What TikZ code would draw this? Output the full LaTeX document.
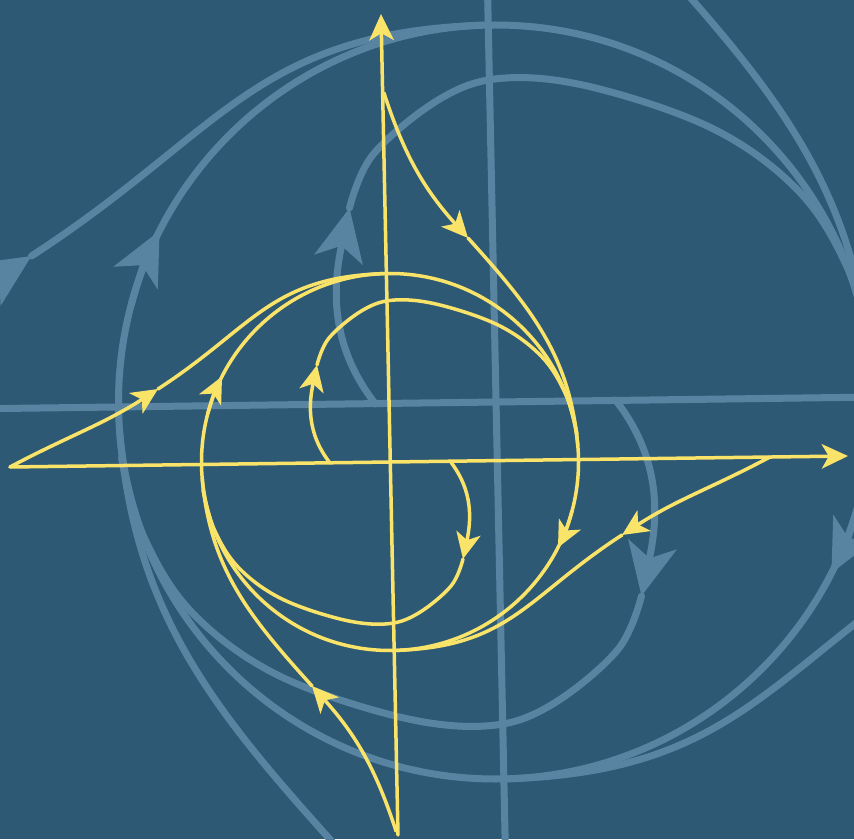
\documentclass[tikz,border=0pt]{standalone}
\usetikzlibrary{arrows.meta}
\definecolor{board}{RGB}{46,89,117}
\definecolor{ghost}{RGB}{88,132,162}
\definecolor{chalk}{RGB}{250,227,105}

%% one phase portrait in its own frame: origin at the centre, v up
\newcommand{\phaseportrait}{%
    %% --- axes ---
    \draw[->] (8,-373) -- (-9,448);
    \draw[->] (-380,-5) -- (458,6);
    %% --- limit cycle ---
    \draw (0,0) circle[radius=188.5];
    \foreach \ang in {0,180} {
        \begin{scope}[rotate=\ang]
            \draw[->] (-15:188.5) arc[start angle=-15, end angle=-27, radius=188.5];
            % spike leaving the vertical axis
            \draw[->] (-6,369) to[out=-72, in=132] (78,224);
            \draw (78,224) to[out=-48, in=95] (187.8,16.4);
            % branch leaving the horizontal axis
            \draw[->] (-380,-5) to[out=28, in=213] (-232,73);
            \draw (-232,73) to[out=33, in=182, looseness=1.15] (-6.6,188.4);
            % inner branch
            \draw[->] (-60,-1) to[out=128, in=258] (-73,97);
            \draw plot[smooth, tension=0.6] coordinates {(-73,97) (-61,124) (-27,152) (5,162) (50,157) (110,136) (152,105) (176,67) (187,28)};
        \end{scope}
    }
}

\begin{document}
\begin{tikzpicture}[
    x=1pt, y=1pt, line cap=round,
    >={Stealth[length=0pt 7.5, width=0pt 7, inset=0pt 2]}
]

\useasboundingbox (0,0) rectangle (854,839);
\fill[board] (0,0) rectangle (854,839);
\clip (0,0) rectangle (854,839);

%% ============================================================
%% FAINT COPY (twice the size, behind)
%% ============================================================
\begin{scope}[shift={(495.5,437)}, scale=2, draw=ghost, line width=7pt]
    \phaseportrait
\end{scope}

%% ============================================================
%% MAIN PORTRAIT
%% ============================================================
\begin{scope}[shift={(390,377)}, draw=chalk, line width=3.5pt]
    \phaseportrait
\end{scope}

\end{tikzpicture}
\end{document}
